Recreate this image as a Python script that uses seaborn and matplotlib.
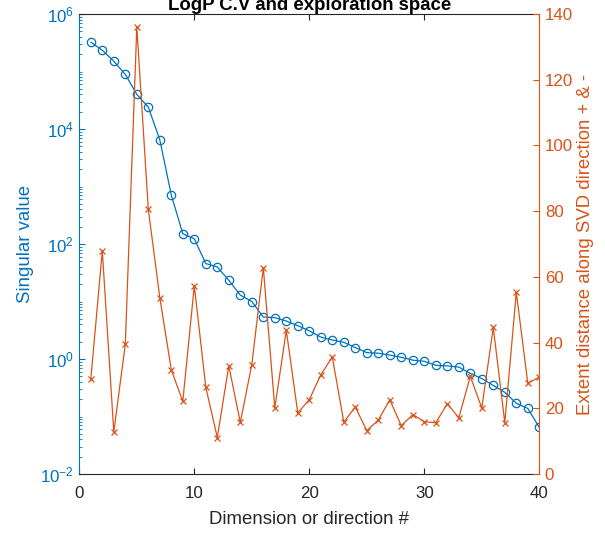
import numpy as np
import pandas as pd
import matplotlib
matplotlib.use("Agg")
import matplotlib.pyplot as plt
import matplotlib.ticker as mticker
import seaborn as sns

dims = list(range(1, 41))
singular_values = [3.24e5, 2.34e5, 1.51e5, 8.9e4, 4.0e4, 2.4e4, 6.5e3, 708, 151, 123,
                   45.7, 39.8, 23.4, 12.9, 10.0, 5.37, 5.25, 4.57, 3.80, 3.09,
                   2.40, 2.14, 1.95, 1.58, 1.29, 1.26, 1.17, 1.07, 0.955, 0.912,
                   0.776, 0.759, 0.724, 0.562, 0.457, 0.347, 0.263, 0.170, 0.138, 0.0646]
extent = [28.8, 67.9, 12.8, 39.5, 136.1, 80.6, 53.7, 31.7, 22.1, 57.3,
          26.4, 11.1, 32.9, 15.7, 33.3, 62.8, 20.1, 43.7, 18.6, 22.6,
          30.2, 35.6, 15.8, 20.4, 13.2, 16.4, 22.6, 14.7, 18.1, 15.9,
          15.6, 21.4, 17.1, 29.7, 20.1, 44.6, 15.6, 55.3, 27.6, 29.5]
left_ticks = [1e-2, 1e0, 1e2, 1e4, 1e6]
left_ticklabels = [r"$10^{-2}$", r"$10^{0}$", r"$10^{2}$", r"$10^{4}$", r"$10^{6}$"]
right_ticks = [0, 20, 40, 60, 80, 100, 120, 140]
x_ticks = [0, 10, 20, 30, 40]

title_text = "LogP C.V and exploration space"
xlabel_text = "Dimension or direction #"
ylabel_left = "Singular value"
ylabel_right = "Extent distance along SVD direction + & -"

sns.set_style("white")
plt.rcParams["font.family"] = ["Liberation Sans", "DejaVu Sans"]
plt.rcParams["mathtext.default"] = "regular"

BLUE = "#0072BD"
ORANGE = "#D95319"
DARK = "#262626"

df = pd.DataFrame({"dim": dims, "sv": singular_values, "ext": extent})

fig = plt.figure(figsize=(6.05, 5.38), dpi=100)
L, R = 79.3 / 605, 539.3 / 605
T, B = 1 - 14 / 538, 1 - 474 / 538
ax = fig.add_axes([L, B, R - L, T - B])
ax2 = ax.twinx()

sns.lineplot(data=df, x="dim", y="sv", ax=ax, color=BLUE, linewidth=0.9,
             marker="o", markersize=6, markerfacecolor="none",
             markeredgecolor=BLUE, markeredgewidth=0.9)
sns.lineplot(data=df, x="dim", y="ext", ax=ax2, color=ORANGE, linewidth=0.9,
             marker="x", markersize=4.5, markeredgecolor=ORANGE,
             markeredgewidth=0.9)

ax.set_yscale("log")
ax.set_ylim(1e-2, 1e6)
ax.set_xlim(0, 40)
ax2.set_ylim(0, 140)

ax.set_xticks(x_ticks)
ax.set_yticks(left_ticks)
ax.set_yticklabels(left_ticklabels)
ax.yaxis.set_minor_locator(mticker.LogLocator(base=10, subs=np.arange(1, 10), numticks=50))
ax.yaxis.set_minor_formatter(mticker.NullFormatter())
ax2.set_yticks(right_ticks)

ax.tick_params(axis="x", which="both", direction="in", top=True, bottom=True,
               length=4, width=0.8, color=DARK, labelsize=12.2, labelcolor=DARK, pad=9)
ax.tick_params(axis="y", which="major", direction="in", left=True, right=False,
               length=4, width=0.8, color=BLUE, labelsize=12.2, labelcolor=BLUE, pad=4)
ax.tick_params(axis="y", which="minor", direction="in", left=True, right=False,
               length=2.2, width=0.6, color=BLUE)
ax2.tick_params(axis="y", which="major", direction="in", right=True, left=False,
                length=4, width=0.8, color=ORANGE, labelsize=12.2, labelcolor=ORANGE, pad=4)

for sp in ["top", "bottom"]:
    ax.spines[sp].set_color(DARK)
    ax.spines[sp].set_linewidth(0.8)
    ax2.spines[sp].set_visible(False)
ax.spines["left"].set_color(BLUE)
ax.spines["left"].set_linewidth(0.8)
ax.spines["right"].set_visible(False)
ax2.spines["left"].set_visible(False)
ax2.spines["right"].set_color(ORANGE)
ax2.spines["right"].set_linewidth(0.8)
ax2.spines["right"].set_visible(True)

ax.set_xlabel(xlabel_text, fontsize=13.4, color=DARK, labelpad=7)
ax.set_ylabel(ylabel_left, fontsize=13.4, color=BLUE, labelpad=4)
ax2.set_ylabel(ylabel_right, fontsize=13.4, color=ORANGE, labelpad=3)

fig.text((L + R) / 2, 1 - 10 / 538, title_text, ha="center", va="baseline",
         fontsize=13.4, fontweight="bold", color="black")

fig.savefig("out.png", dpi=100)
